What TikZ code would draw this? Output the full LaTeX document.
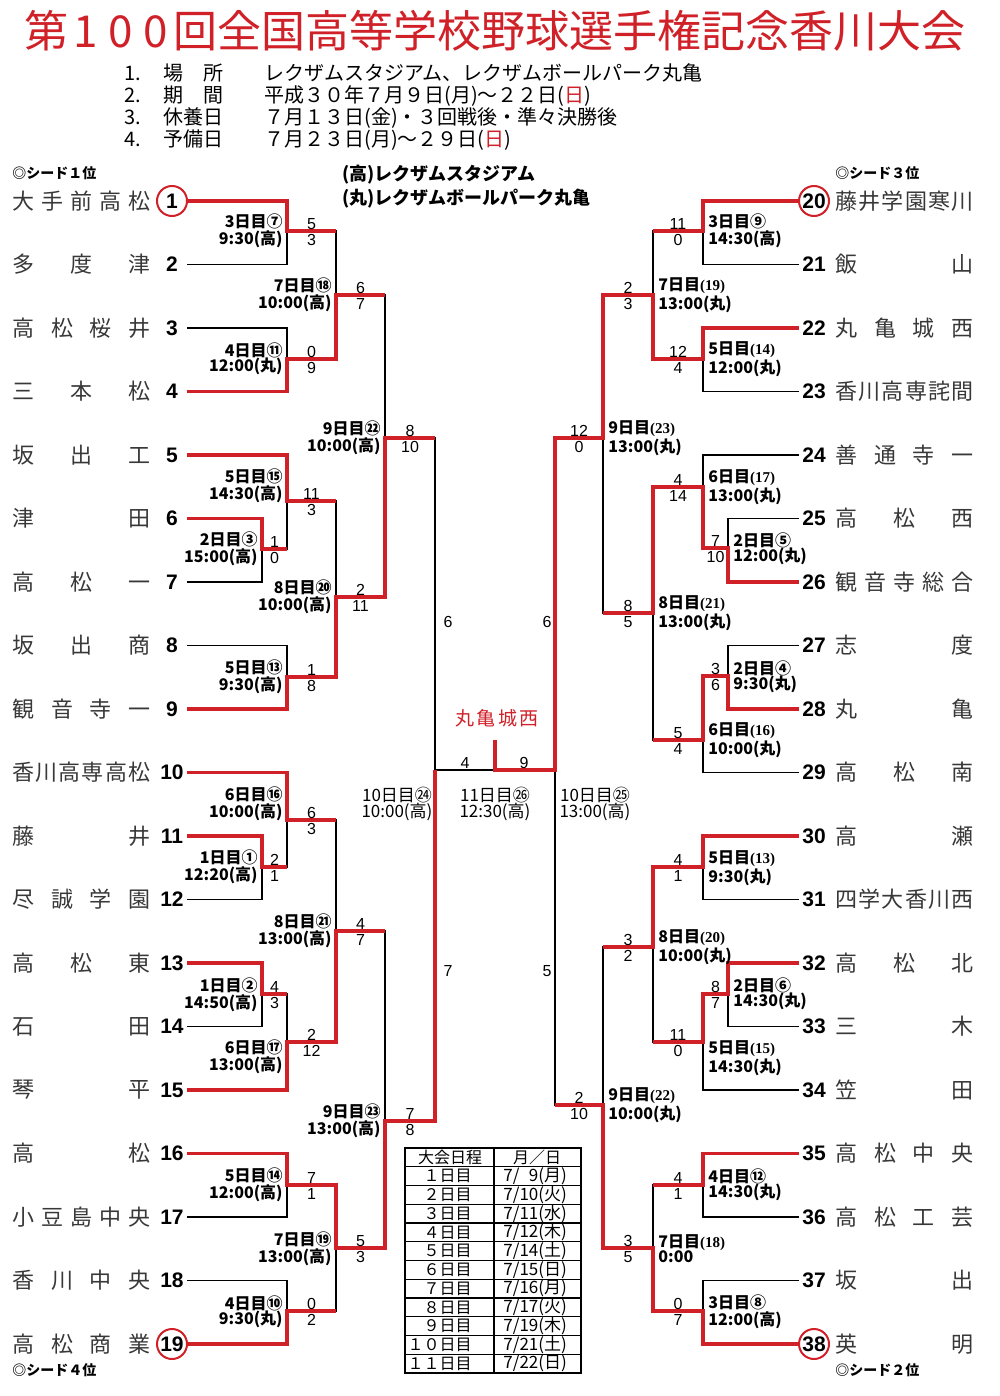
\documentclass[tikz,border=0pt]{standalone}
\usepackage{fontspec}
\setmainfont{Noto Sans CJK JP}
\newfontfamily\arial{Liberation Sans}
\newfontfamily\tnr{Liberation Serif}
\definecolor{bred}{RGB}{208,32,40}
\newcommand\pn[1]{{\tnr\bfseries\fontsize{7.5}{7.5}\selectfont(#1)}}
\newcommand\rsun{{\color{bred}日}}
\tikzset{
  lose/.style={draw=black,line width=0.9pt},
  win/.style={draw=bred,line width=1.6pt},
  num/.style={circle,minimum size=15pt,inner sep=0pt,font=\arial\bfseries\fontsize{10.5}{10.5}\selectfont},
  seed/.style={num,draw=bred,line width=1pt},
  nm/.style={inner sep=0pt,anchor=west,text=black!78,font=\fontsize{11}{11}\selectfont},
  datel/.style={anchor=east,align=right,inner sep=0pt,font=\bfseries\fontsize{8}{7.6}\selectfont},
  dater/.style={anchor=west,align=left,inner sep=0pt,font=\bfseries\fontsize{8}{7.6}\selectfont},
  datec/.style={align=center,inner sep=0pt,font=\fontsize{8.5}{8.2}\selectfont},
  sc/.style={align=center,inner sep=0pt,font=\arial\fontsize{8}{8}\selectfont},
  info/.style={anchor=west,inner sep=0pt,font=\fontsize{10}{10}\selectfont},
  venue/.style={anchor=west,inner sep=0pt,font=\bfseries\fontsize{9}{9}\selectfont},
  seedlbl/.style={anchor=west,inner sep=0pt,font=\bfseries\fontsize{7}{7}\selectfont},
  tb/.style={inner sep=0pt,font=\fontsize{8}{8}\selectfont}
}
\begin{document}
\begin{tikzpicture}[x=0.5pt,y=-0.5pt]
\useasboundingbox (0,0) rectangle (1000,1396);
% header
\node[text=bred,font=\fontsize{22}{22}\selectfont] (title) at (495,31) {第\makebox[17.5pt]{1}\makebox[17.5pt]{0}\makebox[17.5pt]{0}回全国高等学校野球選手権記念香川大会};
\node[info] (i1) at (124,73) {\makebox[19.5pt][l]{1.}\makebox[50.5pt][l]{\makebox[30pt]{場\hfill 所}}レクザムスタジアム、レクザムボールパーク丸亀};
\node[info] (i2) at (124,96) {\makebox[19.5pt][l]{2.}\makebox[50.5pt][l]{\makebox[30pt]{期\hfill 間}}平成３０年７月９日(月)～２２日(\rsun)};
\node[info] (i3) at (124,118) {\makebox[19.5pt][l]{3.}\makebox[50.5pt][l]{\makebox[30pt]{休\hfill 養\hfill 日}}７月１３日(金)・３回戦後・準々決勝後};
\node[info] (i4) at (124,140) {\makebox[19.5pt][l]{4.}\makebox[50.5pt][l]{\makebox[30pt]{予\hfill 備\hfill 日}}７月２３日(月)～２９日(\rsun)};
\node[venue] (v1) at (342,175) {(高)レクザムスタジアム};
\node[venue] (v2) at (342,199) {(丸)レクザムボールパーク丸亀};
\node[seedlbl] (sd1) at (12,173) {◎シード１位};
\node[seedlbl] (sd4) at (12,1370) {◎シード４位};
\node[seedlbl] (sd3) at (835,173) {◎シード３位};
\node[seedlbl] (sd2) at (835,1370) {◎シード２位};
% left teams
\node[seed] (t1) at (172,201) {1};
\node[num] (t2) at (172,264.5) {2};
\node[num] (t3) at (172,328) {3};
\node[num] (t4) at (172,391.5) {4};
\node[num] (t5) at (172,455) {5};
\node[num] (t6) at (172,518.5) {6};
\node[num] (t7) at (172,582) {7};
\node[num] (t8) at (172,645.5) {8};
\node[num] (t9) at (172,709) {9};
\node[num] (t10) at (172,772.5) {10};
\node[num] (t11) at (172,836) {11};
\node[num] (t12) at (172,899.5) {12};
\node[num] (t13) at (172,963) {13};
\node[num] (t14) at (172,1026.5) {14};
\node[num] (t15) at (172,1090) {15};
\node[num] (t16) at (172,1153.5) {16};
\node[num] (t17) at (172,1217) {17};
\node[num] (t18) at (172,1280.5) {18};
\node[seed] (t19) at (172,1344) {19};
\node[nm] (n1) at (12,201) {\makebox[69pt]{大\hfill 手\hfill 前\hfill 高\hfill 松}};
\node[nm] (n2) at (12,264.5) {\makebox[69pt]{多\hfill 度\hfill 津}};
\node[nm] (n3) at (12,328) {\makebox[69pt]{高\hfill 松\hfill 桜\hfill 井}};
\node[nm] (n4) at (12,391.5) {\makebox[69pt]{三\hfill 本\hfill 松}};
\node[nm] (n5) at (12,455) {\makebox[69pt]{坂\hfill 出\hfill 工}};
\node[nm] (n6) at (12,518.5) {\makebox[69pt]{津\hfill 田}};
\node[nm] (n7) at (12,582) {\makebox[69pt]{高\hfill 松\hfill 一}};
\node[nm] (n8) at (12,645.5) {\makebox[69pt]{坂\hfill 出\hfill 商}};
\node[nm] (n9) at (12,709) {\makebox[69pt]{観\hfill 音\hfill 寺\hfill 一}};
\node[nm] (n10) at (12,772.5) {\makebox[69pt]{香\hfill 川\hfill 高\hfill 専\hfill 高\hfill 松}};
\node[nm] (n11) at (12,836) {\makebox[69pt]{藤\hfill 井}};
\node[nm] (n12) at (12,899.5) {\makebox[69pt]{尽\hfill 誠\hfill 学\hfill 園}};
\node[nm] (n13) at (12,963) {\makebox[69pt]{高\hfill 松\hfill 東}};
\node[nm] (n14) at (12,1026.5) {\makebox[69pt]{石\hfill 田}};
\node[nm] (n15) at (12,1090) {\makebox[69pt]{琴\hfill 平}};
\node[nm] (n16) at (12,1153.5) {\makebox[69pt]{高\hfill 松}};
\node[nm] (n17) at (12,1217) {\makebox[69pt]{小\hfill 豆\hfill 島\hfill 中\hfill 央}};
\node[nm] (n18) at (12,1280.5) {\makebox[69pt]{香\hfill 川\hfill 中\hfill 央}};
\node[nm] (n19) at (12,1344) {\makebox[69pt]{高\hfill 松\hfill 商\hfill 業}};
% right teams
\node[seed] (t20) at (814,201) {20};
\node[num] (t21) at (814,264.5) {21};
\node[num] (t22) at (814,328) {22};
\node[num] (t23) at (814,391.5) {23};
\node[num] (t24) at (814,455) {24};
\node[num] (t25) at (814,518.5) {25};
\node[num] (t26) at (814,582) {26};
\node[num] (t27) at (814,645.5) {27};
\node[num] (t28) at (814,709) {28};
\node[num] (t29) at (814,772.5) {29};
\node[num] (t30) at (814,836) {30};
\node[num] (t31) at (814,899.5) {31};
\node[num] (t32) at (814,963) {32};
\node[num] (t33) at (814,1026.5) {33};
\node[num] (t34) at (814,1090) {34};
\node[num] (t35) at (814,1153.5) {35};
\node[num] (t36) at (814,1217) {36};
\node[num] (t37) at (814,1280.5) {37};
\node[seed] (t38) at (814,1344) {38};
\node[nm] (n20) at (835,201) {\makebox[69pt]{藤\hfill 井\hfill 学\hfill 園\hfill 寒\hfill 川}};
\node[nm] (n21) at (835,264.5) {\makebox[69pt]{飯\hfill 山}};
\node[nm] (n22) at (835,328) {\makebox[69pt]{丸\hfill 亀\hfill 城\hfill 西}};
\node[nm] (n23) at (835,391.5) {\makebox[69pt]{香\hfill 川\hfill 高\hfill 専\hfill 詫\hfill 間}};
\node[nm] (n24) at (835,455) {\makebox[69pt]{善\hfill 通\hfill 寺\hfill 一}};
\node[nm] (n25) at (835,518.5) {\makebox[69pt]{高\hfill 松\hfill 西}};
\node[nm] (n26) at (835,582) {\makebox[69pt]{観\hfill 音\hfill 寺\hfill 総\hfill 合}};
\node[nm] (n27) at (835,645.5) {\makebox[69pt]{志\hfill 度}};
\node[nm] (n28) at (835,709) {\makebox[69pt]{丸\hfill 亀}};
\node[nm] (n29) at (835,772.5) {\makebox[69pt]{高\hfill 松\hfill 南}};
\node[nm] (n30) at (835,836) {\makebox[69pt]{高\hfill 瀬}};
\node[nm] (n31) at (835,899.5) {\makebox[69pt]{四\hfill 学\hfill 大\hfill 香\hfill 川\hfill 西}};
\node[nm] (n32) at (835,963) {\makebox[69pt]{高\hfill 松\hfill 北}};
\node[nm] (n33) at (835,1026.5) {\makebox[69pt]{三\hfill 木}};
\node[nm] (n34) at (835,1090) {\makebox[69pt]{笠\hfill 田}};
\node[nm] (n35) at (835,1153.5) {\makebox[69pt]{高\hfill 松\hfill 中\hfill 央}};
\node[nm] (n36) at (835,1217) {\makebox[69pt]{高\hfill 松\hfill 工\hfill 芸}};
\node[nm] (n37) at (835,1280.5) {\makebox[69pt]{坂\hfill 出}};
\node[nm] (n38) at (835,1344) {\makebox[69pt]{英\hfill 明}};
% match points
\coordinate (m7) at (287,231);
\coordinate (m11) at (287,359);
\coordinate (m18) at (336,295);
\coordinate (m3) at (262,549);
\coordinate (m15) at (287,501);
\coordinate (m13) at (287,677);
\coordinate (m20) at (336,597);
\coordinate (m22) at (385,438);
\coordinate (m1) at (262,867);
\coordinate (m16) at (287,820);
\coordinate (m2) at (262,994);
\coordinate (m17) at (287,1042);
\coordinate (m21) at (336,931);
\coordinate (m14) at (287,1185);
\coordinate (m10) at (287,1311);
\coordinate (m19) at (336,1248);
\coordinate (m23) at (385,1121);
\coordinate (m24) at (435,770);
\coordinate (fin) at (495,770);
\coordinate (champ) at (495,740);
\coordinate (r9) at (703,231);
\coordinate (r14) at (703,359);
\coordinate (r19) at (653,295);
\coordinate (r5) at (728,548);
\coordinate (r17) at (703,487);
\coordinate (r4) at (728,676);
\coordinate (r16) at (703,740);
\coordinate (r21) at (653,613);
\coordinate (r23) at (603,438);
\coordinate (r13) at (703,867);
\coordinate (r6) at (728,994);
\coordinate (r15) at (703,1042);
\coordinate (r20) at (653,947);
\coordinate (r12) at (703,1185);
\coordinate (r8) at (703,1311);
\coordinate (r18) at (653,1248);
\coordinate (r22) at (603,1105);
\coordinate (r25) at (555,770);
% bracket, black
\draw[lose] (t1.east) -| (m7) |- (t2.east);
\draw[lose] (t3.east) -| (m11) |- (t4.east);
\draw[lose] (m7) -| (m18) |- (m11);
\draw[lose] (t6.east) -| (m3) |- (t7.east);
\draw[lose] (t5.east) -| (m15) |- (m3);
\draw[lose] (t8.east) -| (m13) |- (t9.east);
\draw[lose] (m15) -| (m20) |- (m13);
\draw[lose] (m18) -| (m22) |- (m20);
\draw[lose] (t11.east) -| (m1) |- (t12.east);
\draw[lose] (t10.east) -| (m16) |- (m1);
\draw[lose] (t13.east) -| (m2) |- (t14.east);
\draw[lose] (m2) -| (m17) |- (t15.east);
\draw[lose] (m16) -| (m21) |- (m17);
\draw[lose] (t16.east) -| (m14) |- (t17.east);
\draw[lose] (t18.east) -| (m10) |- (t19.east);
\draw[lose] (m14) -| (m19) |- (m10);
\draw[lose] (m21) -| (m23) |- (m19);
\draw[lose] (m22) -| (m24) |- (m23);
\draw[lose] (m24) -- (fin);
\draw[lose] (t20.west) -| (r9) |- (t21.west);
\draw[lose] (t22.west) -| (r14) |- (t23.west);
\draw[lose] (r9) -| (r19) |- (r14);
\draw[lose] (t25.west) -| (r5) |- (t26.west);
\draw[lose] (t24.west) -| (r17) |- (r5);
\draw[lose] (t27.west) -| (r4) |- (t28.west);
\draw[lose] (r4) -| (r16) |- (t29.west);
\draw[lose] (r17) -| (r21) |- (r16);
\draw[lose] (r19) -| (r23) |- (r21);
\draw[lose] (t30.west) -| (r13) |- (t31.west);
\draw[lose] (t32.west) -| (r6) |- (t33.west);
\draw[lose] (r6) -| (r15) |- (t34.west);
\draw[lose] (r13) -| (r20) |- (r15);
\draw[lose] (t35.west) -| (r12) |- (t36.west);
\draw[lose] (t37.west) -| (r8) |- (t38.west);
\draw[lose] (r12) -| (r18) |- (r8);
\draw[lose] (r20) -| (r22) |- (r18);
\draw[lose] (r23) -| (r25) |- (r22);
% winners, red
\draw[win] (t1.east) -| (m7) -- (m7 -| m18);
\draw[win] (t4.east) -| (m11) -| (m18) -- (m18 -| m22);
\draw[win] (t6.east) -| (m3) -- (m3 -| m15);
\draw[win] (t5.east) -| (m15) -- (m15 -| m20);
\draw[win] (t9.east) -| (m13) -| (m20) -| (m22) -- (m22 -| m24);
\draw[win] (t11.east) -| (m1) -- (m1 -| m16);
\draw[win] (t10.east) -| (m16) -- (m16 -| m21);
\draw[win] (t13.east) -| (m2) -- (m2 -| m17);
\draw[win] (t15.east) -| (m17) -| (m21) -- (m21 -| m23);
\draw[win] (t16.east) -| (m14) -| (m19) -| (m23) -| (m24);
\draw[win] (t19.east) -| (m10) -- (m10 -| m19);
\draw[win] (t20.west) -| (r9) -- (r9 -| r19);
\draw[win] (t22.west) -| (r14) -| (r19) -| (r23) -| (r25) -| (champ);
\draw[win] (t26.west) -| (r5) -| (r17) -| (r21) -- (r21 -| r23);
\draw[win] (t28.west) -| (r4) -| (r16) -- (r16 -| r21);
\draw[win] (t30.west) -| (r13) -| (r20) -- (r20 -| r22);
\draw[win] (t32.west) -| (r6) -| (r15) -- (r15 -| r20);
\draw[win] (t35.west) -| (r12) -- (r12 -| r18);
\draw[win] (t38.west) -| (r8) -| (r18) -| (r22) -- (r22 -| r25);
% dates, left
\node[datel] (d7) at (283,231) {3日目⑦\\9:30(高)};
\node[datel] (d11) at (283,359) {4日目⑪\\12:00(丸)};
\node[datel] (d18) at (332,295) {7日目⑱\\10:00(高)};
\node[datel] (d3) at (258,549) {2日目③\\15:00(高)};
\node[datel] (d15) at (283,486) {5日目⑮\\14:30(高)};
\node[datel] (d13) at (283,677) {5日目⑬\\9:30(高)};
\node[datel] (d20) at (332,597) {8日目⑳\\10:00(高)};
\node[datel] (d22) at (381,438) {9日目㉒\\10:00(高)};
\node[datel] (d1) at (258,867) {1日目①\\12:20(高)};
\node[datel] (d16) at (283,804) {6日目⑯\\10:00(高)};
\node[datel] (d2) at (258,995) {1日目②\\14:50(高)};
\node[datel] (d17) at (283,1057) {6日目⑰\\13:00(高)};
\node[datel] (d21) at (332,931) {8日目㉑\\13:00(高)};
\node[datel] (d14) at (283,1185) {5日目⑭\\12:00(高)};
\node[datel] (d10) at (283,1312) {4日目⑩\\9:30(丸)};
\node[datel] (d19) at (332,1249) {7日目⑲\\13:00(高)};
\node[datel] (d23) at (381,1121) {9日目㉓\\13:00(高)};
% dates, right
\node[dater] (e9) at (708,231) {3日目⑨\\14:30(高)};
\node[dater] (e14) at (708,359) {5日目\pn{14}\\12:00(丸)};
\node[dater] (e19) at (658,295) {7日目\pn{19}\\13:00(丸)};
\node[dater] (e5) at (733,549) {2日目⑤\\12:00(丸)};
\node[dater] (e17) at (708,487) {6日目\pn{17}\\13:00(丸)};
\node[dater] (e4) at (733,677) {2日目④\\9:30(丸)};
\node[dater] (e16) at (708,740) {6日目\pn{16}\\10:00(丸)};
\node[dater] (e21) at (658,613) {8日目\pn{21}\\13:00(丸)};
\node[dater] (e23) at (608,438) {9日目\pn{23}\\13:00(丸)};
\node[dater] (e13) at (708,868) {5日目\pn{13}\\9:30(丸)};
\node[dater] (e20) at (658,947) {8日目\pn{20}\\10:00(丸)};
\node[dater] (e6) at (733,994) {2日目⑥\\14:30(丸)};
\node[dater] (e15) at (708,1058) {5日目\pn{15}\\14:30(丸)};
\node[dater] (e22) at (608,1105) {9日目\pn{22}\\10:00(丸)};
\node[dater] (e12) at (708,1185) {4日目⑫\\14:30(丸)};
\node[dater] (e18) at (658,1249) {7日目\pn{18}\\0:00};
\node[dater] (e8) at (708,1312) {3日目⑧\\12:00(高)};
\node[datec] (d24) at (397,804) {10日目㉔\\10:00(高)};
\node[datec] (d26) at (495,804) {11日目㉖\\12:30(高)};
\node[datec] (d25) at (595,804) {10日目㉕\\13:00(高)};
% scores
\node[sc] (s3) at (274.5,550) {1\\0};
\node[sc] (s1) at (274.5,868) {2\\1};
\node[sc] (s2) at (274.5,995) {4\\3};
\node[sc] (s7) at (311.5,232) {5\\3};
\node[sc] (s11) at (311.5,360) {0\\9};
\node[sc] (s15) at (311.5,502) {11\\3};
\node[sc] (s13) at (311.5,678) {1\\8};
\node[sc] (s16) at (311.5,821) {6\\3};
\node[sc] (s17) at (311.5,1043) {2\\12};
\node[sc] (s14) at (311.5,1186) {7\\1};
\node[sc] (s10) at (311.5,1312) {0\\2};
\node[sc] (s18) at (360.5,296) {6\\7};
\node[sc] (s20) at (360.5,598) {2\\11};
\node[sc] (s21) at (360.5,932) {4\\7};
\node[sc] (s19) at (360.5,1249) {5\\3};
\node[sc] (s22) at (410,439) {8\\10};
\node[sc] (s23) at (410,1122) {7\\8};
\node[sc] (u5) at (715.5,549) {7\\10};
\node[sc] (u4) at (715.5,677) {3\\6};
\node[sc] (u6) at (715.5,995) {8\\7};
\node[sc] (u9) at (678,232) {11\\0};
\node[sc] (u14) at (678,360) {12\\4};
\node[sc] (u17) at (678,488) {4\\14};
\node[sc] (u16) at (678,741) {5\\4};
\node[sc] (u13) at (678,868) {4\\1};
\node[sc] (u15) at (678,1043) {11\\0};
\node[sc] (u12) at (678,1186) {4\\1};
\node[sc] (u8) at (678,1312) {0\\7};
\node[sc] (u19) at (628,296) {2\\3};
\node[sc] (u21) at (628,614) {8\\5};
\node[sc] (u20) at (628,948) {3\\2};
\node[sc] (u18) at (628,1249) {3\\5};
\node[sc] (u23) at (579,439) {12\\0};
\node[sc] (u22) at (579,1106) {2\\10};
\node[sc] (s24a) at (448,622) {6};
\node[sc] (s24b) at (448,971) {7};
\node[sc] (u25a) at (547,622) {6};
\node[sc] (u25b) at (547,971) {5};
\node[sc] (fl) at (465,763) {4};
\node[sc] (fr) at (524,763) {9};
\node[inner sep=0pt,text=bred,font=\fontsize{9.5}{9.5}\selectfont] (winner) at (497,718) {\makebox[41.5pt]{丸\hfill 亀\hfill 城\hfill 西}};
% schedule table
\draw[line width=1.1pt] (405,1148) rectangle (581,1373);
\draw[line width=0.8pt] (494,1148) -- (494,1373);
\foreach \k in {1,...,11} \draw[line width=0.6pt] (405,{1148+18.75*\k}) -- (581,{1148+18.75*\k});
\node[tb] (h1) at (450,1157.4) {大会日程};
\node[tb] (h2) at (537,1157.4) {月／日};
\foreach \d/\t [count=\k] in {１/\hphantom{1}9(月),２/10(火),３/11(水),４/12(木),５/14(土),６/15(日),７/16(月),８/17(火),９/19(木),１０/21(土),１１/22(日)}{
  \node[tb,anchor=east] (day\k) at (472,{1148+18.75*(\k+0.5)}) {{\d}日目};
  \node[tb,anchor=west,font=\fontsize{8.5}{8.5}\selectfont] (date\k) at (503,{1148+18.75*(\k+0.5)}) {7/\t};
}
\end{tikzpicture}
\end{document}
